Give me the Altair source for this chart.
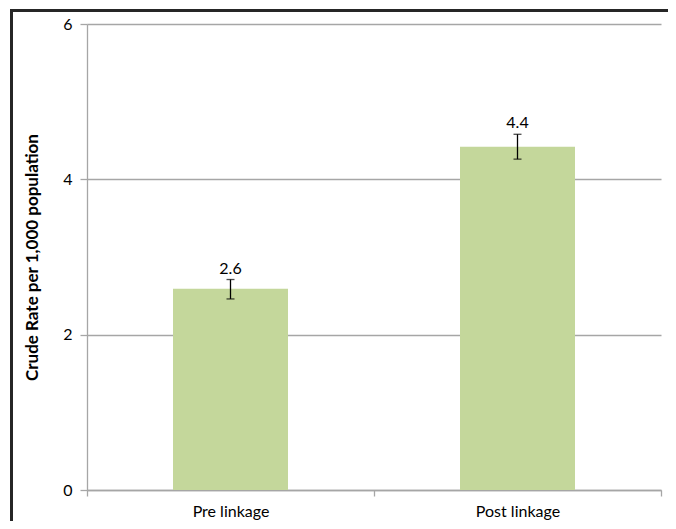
import altair as alt
import pandas as pd

categories = ["Pre linkage", "Post linkage"]
rates = [2.59, 4.42]
lower = [2.46, 4.26]
upper = [2.71, 4.58]
labels = ["2.6", "4.4"]

df = pd.DataFrame({"cat": categories, "rate": rates, "lo": lower, "hi": upper, "lab": labels})

FONT = "Lato"
GRID = "#a6a6a6"

x = alt.X("cat:N", sort=categories, title=None,
          scale=alt.Scale(paddingInner=0, paddingOuter=0),
          axis=alt.Axis(labelAngle=0, tickBand="extent", domainColor=GRID, tickColor=GRID,
                        tickSize=6, labelPadding=7, labelFontSize=16, labelFont=FONT,
                        labelColor="#000000", domainWidth=1.3, tickWidth=1.3))
y = alt.Y("rate:Q", title="Crude Rate per 1,000 population",
          scale=alt.Scale(domain=[0, 6], nice=False),
          axis=alt.Axis(values=[0, 2, 4, 6], format="d", tickSize=7, tickColor=GRID,
                        domainColor=GRID, gridColor=GRID, grid=True, labelPadding=8,
                        labelFontSize=16, labelFont=FONT, labelColor="#000000",
                        titleFont=FONT, titleFontSize=17, titleFontWeight="bold",
                        titleColor="#000000", titlePadding=21, domainWidth=1.3,
                        tickWidth=1.3, gridWidth=1.3))

base = alt.Chart(df)
bars = base.mark_bar(size=115, color="#c4d79b").encode(x=x, y=y)
rule = base.mark_rule(color="#000000", strokeWidth=1.3).encode(x=x, y="lo:Q", y2="hi:Q")
cap_lo = base.mark_tick(color="#000000", size=8, thickness=1.3).encode(x=x, y="lo:Q")
cap_hi = base.mark_tick(color="#000000", size=8, thickness=1.3).encode(x=x, y="hi:Q")
text = base.mark_text(baseline="bottom", dy=-3, font=FONT, fontSize=16, color="#000000").encode(
    x=x, y="hi:Q", text="lab:N")

frame = alt.Chart(pd.DataFrame({"k": [0]})).mark_rect(
    fillOpacity=0, stroke="#262626", strokeWidth=3).encode(
    x=alt.value(-75.5), x2=alt.value(700), y=alt.value(-13.5), y2=alt.value(700))

chart = alt.layer(frame, bars, rule, cap_lo, cap_hi, text).properties(
    width=574, height=466,
    padding={"left": 79, "top": 16, "right": 7, "bottom": 31},
    autosize=alt.AutoSizeParams(type="none"),
).configure_view(stroke=None)

chart.save("out.html", embed_options={"renderer": "svg", "actions": False})
